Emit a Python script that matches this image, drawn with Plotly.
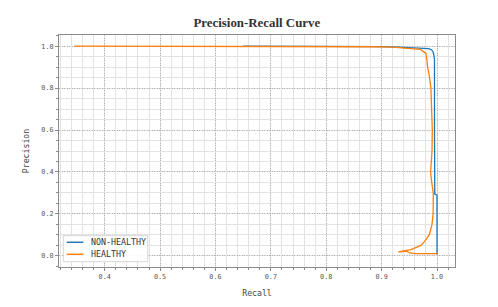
import plotly.graph_objects as go

# NON-HEALTHY curve (recall, precision)
nh_recall = [0.65, 0.80, 0.90, 0.93, 0.96, 0.975, 0.985, 0.990, 0.993, 0.9945, 0.9955, 0.9955, 0.9955, 0.9960, 1.000, 1.000]
nh_precision = [1.000, 1.000, 0.998, 0.995, 0.992, 0.991, 0.988, 0.983, 0.972, 0.955, 0.934, 0.600, 0.310, 0.295, 0.290, 0.005]

# HEALTHY curve (recall, precision)
h_recall = [0.345, 0.60, 0.80, 0.88, 0.92, 0.958, 0.970, 0.975, 0.980, 0.982, 0.983, 0.986, 0.989, 0.990,
            0.9915, 0.991, 0.9885, 0.990, 0.9933, 0.993, 0.991, 0.986, 0.978, 0.971, 0.953, 0.930,
            0.945, 0.950, 0.960, 1.000, 1.000]
h_precision = [1.000, 1.000, 0.999, 0.997, 0.995, 0.990, 0.985, 0.975, 0.965, 0.930, 0.900, 0.860, 0.800, 0.720,
               0.600, 0.500, 0.400, 0.360, 0.300, 0.200, 0.150, 0.100, 0.070, 0.050, 0.030, 0.019,
               0.022, 0.015, 0.011, 0.011, 0.015]

series_names = ["NON-HEALTHY", "HEALTHY"]
series_colors = ["#1f77b4", "#ff7f0e"]

x_ticks = [0.4, 0.5, 0.6, 0.7, 0.8, 0.9, 1.0]
y_ticks = [0.0, 0.2, 0.4, 0.6, 0.8, 1.0]

mono = "DejaVu Sans Mono"

fig = go.Figure()
fig.add_trace(go.Scatter(x=nh_recall, y=nh_precision, mode="lines", name=series_names[0],
                         line=dict(color=series_colors[0], width=1.3), showlegend=False))
fig.add_trace(go.Scatter(x=h_recall, y=h_precision, mode="lines", name=series_names[1],
                         line=dict(color=series_colors[1], width=1.3), showlegend=False))

axis_common = dict(
    showline=True, mirror=True, linecolor="#8a8a8a", linewidth=1,
    showgrid=True, gridcolor="#b4b4b4", griddash="1px,1.5px", gridwidth=1,
    ticks="outside", ticklen=3, tickcolor="#8a8a8a",
    tickfont=dict(family=mono, size=6.8, color="#555555"),
    zeroline=False, automargin=False,
)

fig.update_xaxes(
    range=[0.3175, 1.0325], tickvals=x_ticks, ticktext=[f"{v:.1f}" for v in x_ticks],
    title=dict(text="Recall", font=dict(family=mono, size=8.2, color="#444444"), standoff=10),
    minor=dict(dtick=0.02, tick0=0, showgrid=True, gridcolor="#e3e3e3", gridwidth=1, griddash="solid",
               ticks="outside", ticklen=2, tickcolor="#8a8a8a"),
    **axis_common,
)
fig.update_yaxes(
    range=[-0.053, 1.053], tickvals=y_ticks, ticktext=[f"{v:.1f}" for v in y_ticks],
    title=dict(text="Precision", font=dict(family=mono, size=8.2, color="#444444"), standoff=10),
    minor=dict(dtick=0.05, tick0=0, showgrid=True, gridcolor="#e3e3e3", gridwidth=1, griddash="solid",
               ticks="outside", ticklen=2, tickcolor="#8a8a8a"),
    **axis_common,
)

# compact legend box (lower left), drawn in paper coordinates
legend_x0, legend_x1, legend_y0, legend_y1 = 0.011, 0.224, 0.023, 0.135
legend_rows_y = [0.1065, 0.0547]
fig.add_shape(type="rect", xref="paper", yref="paper", x0=legend_x0, x1=legend_x1, y0=legend_y0, y1=legend_y1,
              line=dict(color="#d6d6d6", width=1), fillcolor="rgba(255,255,255,0.92)", layer="above")
for name, color, ry in zip(series_names, series_colors, legend_rows_y):
    fig.add_shape(type="line", xref="paper", yref="paper", x0=0.0194, x1=0.0614, y0=ry, y1=ry,
                  line=dict(color=color, width=1.5), layer="above")
    fig.add_annotation(xref="paper", yref="paper", x=0.0765, y=ry, xanchor="left", yanchor="middle",
                       text=name, showarrow=False, font=dict(family=mono, size=8.3, color="#333333"))

fig.update_layout(
    width=490, height=299,
    margin=dict(l=51, r=43, t=27, b=40, autoexpand=False),
    paper_bgcolor="white", plot_bgcolor="white",
    title=dict(text="<b>Precision-Recall Curve</b>", x=0.5078, xanchor="center", y=0.951, yanchor="middle",
               font=dict(family="Liberation Serif", size=12.9, color="#333333")),
    showlegend=False,
)

fig.write_html("out.html")
